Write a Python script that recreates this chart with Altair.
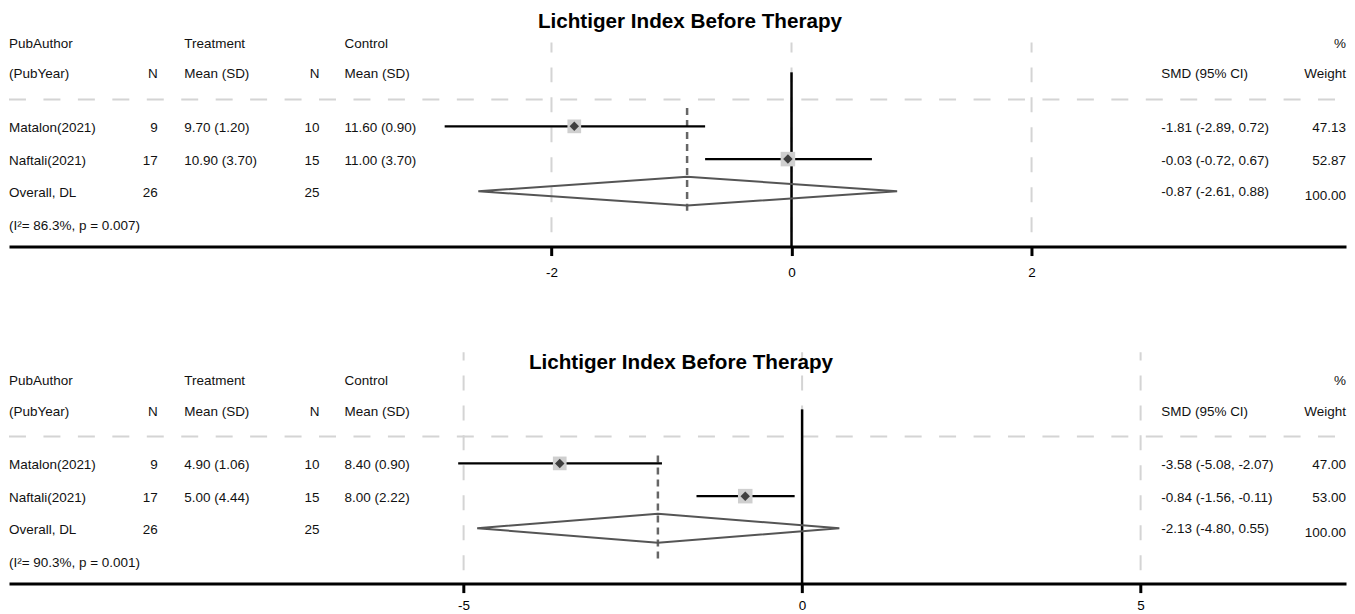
import altair as alt
import pandas as pd

# ---------------- data ----------------
TITLE = "Lichtiger Index Before Therapy"
studies = ["Matalon(2021)", "Naftali(2021)"]
overall_name = "Overall, DL"
hdr_top = {"name": "PubAuthor", "msd_t": "Treatment", "msd_c": "Control", "weight": "%"}
hdr_bot = {"name": "(PubYear)", "n_t": "N", "msd_t": "Mean (SD)", "n_c": "N",
           "msd_c": "Mean (SD)", "ci": "SMD (95% CI)", "weight": "Weight"}

# panel 1
p1_n_t = [9, 17]
p1_n_c = [10, 15]
p1_msd_t = ["9.70 (1.20)", "10.90 (3.70)"]
p1_msd_c = ["11.60 (0.90)", "11.00 (3.70)"]
p1_smd = [-1.81, -0.03]
p1_lo = [-2.89, -0.72]
p1_hi = [-0.72, 0.67]
p1_ci_text = ["-1.81 (-2.89, 0.72)", "-0.03 (-0.72, 0.67)"]
p1_weight = [47.13, 52.87]
p1_overall = [-0.87, -2.61, 0.88]
p1_overall_text = "-0.87 (-2.61, 0.88)"
p1_tot_n = [26, 25]
p1_het = "(I\u00b2= 86.3%, p = 0.007)"
p1_ticks = [-2, 0, 2]

# panel 2
p2_n_t = [9, 17]
p2_n_c = [10, 15]
p2_msd_t = ["4.90 (1.06)", "5.00 (4.44)"]
p2_msd_c = ["8.40 (0.90)", "8.00 (2.22)"]
p2_smd = [-3.58, -0.84]
p2_lo = [-5.08, -1.56]
p2_hi = [-2.07, -0.11]
p2_ci_text = ["-3.58 (-5.08, -2.07)", "-0.84 (-1.56, -0.11)"]
p2_weight = [47.00, 53.00]
p2_overall = [-2.13, -4.80, 0.55]
p2_overall_text = "-2.13 (-4.80, 0.55)"
p2_tot_n = [26, 25]
p2_het = "(I\u00b2= 90.3%, p = 0.001)"
p2_ticks = [-5, 0, 5]

# ---------------- layout ----------------
W = 1339
ROW_TOP, ROW_BOT = -3.6, 3.67
H = (ROW_BOT - ROW_TOP) * 32.8
FONT = "Liberation Sans"
FS = 13.5
col_px = {"name": 0, "n_t": 149, "msd_t": 175.5, "n_c": 311, "msd_c": 336,
          "ci": 1154, "weight": 1339}
left_cols = {"name", "msd_t", "msd_c", "ci"}
ROW_H1, ROW_H2, ROW_SEP, ROW_HET = -2.55, -1.63, -0.82, 3.0
DIAMOND_HALF = 0.44

yscale = alt.Scale(domain=[ROW_TOP, ROW_BOT], reverse=True, nice=False, zero=False)
pxscale = alt.Scale(domain=[0, W], nice=False, zero=False)


def yenc(f):
    return alt.Y(f + ":Q", scale=yscale, axis=None)


def panel(n_t, n_c, msd_t, msd_c, smd, lo, hi, ci_text, weight, overall,
          overall_text, tot_n, het, ticks, xdomain, title_px, title_row,
          grid_rows, odash_rows, tick_size, label_pad):
    xscale = alt.Scale(domain=xdomain, nice=False, zero=False)
    xaxis = alt.Axis(values=ticks, domainColor="black", domainWidth=3,
                     tickColor="black", tickWidth=3, tickSize=tick_size,
                     labelFontSize=FS, labelFont=FONT, labelColor="black",
                     labelPadding=label_pad, grid=False, title=None,
                     labelExpr="'' + datum.value")

    def xenc(f):
        return alt.X(f + ":Q", scale=xscale, axis=xaxis, title=None)

    rows = list(range(len(smd)))
    grid_df = pd.DataFrame({"x": ticks, "y": [grid_rows[1]] * len(ticks),
                            "y2": [grid_rows[0]] * len(ticks)})
    grid = alt.Chart(grid_df).mark_rule(color="#d4d4d4", strokeWidth=2,
                                        strokeDash=[15, 15]).encode(
        x=xenc("x"), y=yenc("y"), y2="y2")
    sep = alt.Chart(pd.DataFrame({"x": [xdomain[0]], "x2": [xdomain[1]], "y": [ROW_SEP]})).mark_rule(
        color="#d4d4d4", strokeWidth=2, strokeDash=[17, 17.5]).encode(
        x=xenc("x"), x2="x2", y=yenc("y"))
    zero = alt.Chart(pd.DataFrame({"x": [0], "y": [-1.65], "y2": [ROW_BOT]})).mark_rule(
        color="black", strokeWidth=2.5).encode(x=xenc("x"), y=yenc("y"), y2="y2")
    odash = alt.Chart(pd.DataFrame({"x": [overall[0]], "y": [odash_rows[0]],
                                    "y2": [odash_rows[1]]})).mark_rule(
        color="#666666", strokeWidth=2.5, strokeDash=[7, 5]).encode(
        x=xenc("x"), y=yenc("y"), y2="y2")
    sdf = pd.DataFrame({"row": rows, "smd": smd, "lo": lo, "hi": hi,
                        "w": weight, "sz": [w * 4.0 for w in weight]})
    ci = alt.Chart(sdf).mark_rule(color="black", strokeWidth=2.3).encode(
        x=xenc("lo"), x2="hi", y=yenc("row"))
    sq = alt.Chart(sdf).mark_square(color="#cfcfcf", opacity=1).encode(
        x=xenc("smd"), y=yenc("row"),
        size=alt.Size("sz:Q", scale=None, legend=None))
    dm = alt.Chart(sdf).mark_point(shape="diamond", filled=True, color="#3f3f3f",
                                   opacity=1, size=90).encode(
        x=xenc("smd"), y=yenc("row"))
    r = len(smd) - 0.02
    est, olo, ohi = overall
    ddf = pd.DataFrame({"x": [olo, est, ohi, est, olo],
                        "y": [r, r - DIAMOND_HALF, r, r + DIAMOND_HALF, r],
                        "o": [0, 1, 2, 3, 4]})
    dia = alt.Chart(ddf).mark_line(color="#555555", strokeWidth=2).encode(
        x=xenc("x"), y=yenc("y"), order="o:Q")
    data_layer = alt.layer(grid, sep, zero, odash, ci, sq, dm, dia)

    # text table
    recs = []

    def add(col, row, text):
        recs.append({"px": col_px[col], "row": row, "t": str(text),
                     "left": col in left_cols})

    for k, v in hdr_top.items():
        add(k, ROW_H1, v)
    for k, v in hdr_bot.items():
        add(k, ROW_H2, v)
    for i in rows:
        add("name", i, studies[i])
        add("n_t", i, n_t[i])
        add("msd_t", i, msd_t[i])
        add("n_c", i, n_c[i])
        add("msd_c", i, msd_c[i])
        add("ci", i, ci_text[i])
        add("weight", i, f"{weight[i]:.2f}")
    k = len(smd)
    add("name", k, overall_name)
    add("n_t", k, tot_n[0])
    add("n_c", k, tot_n[1])
    add("ci", k - 0.03, overall_text)
    add("weight", k + 0.08, f"{sum(weight):.2f}")
    add("name", ROW_HET, het)
    tdf = pd.DataFrame(recs)
    tl = alt.Chart(tdf[tdf["left"]]).mark_text(
        align="left", baseline="middle", font=FONT, fontSize=FS, color="#111111", dy=1.5
    ).encode(x=alt.X("px:Q", scale=pxscale, axis=None), y=yenc("row"), text="t:N")
    tr = alt.Chart(tdf[~tdf["left"]]).mark_text(
        align="right", baseline="middle", font=FONT, fontSize=FS, color="#111111", dy=1.5
    ).encode(x=alt.X("px:Q", scale=pxscale, axis=None), y=yenc("row"), text="t:N")
    tt = alt.Chart(pd.DataFrame({"px": [title_px], "row": [title_row], "t": [TITLE]})).mark_text(
        align="center", baseline="alphabetic", font=FONT, fontSize=20.7, fontWeight="bold",
        color="black"
    ).encode(x=alt.X("px:Q", scale=pxscale, axis=None), y=yenc("row"), text="t:N")
    text_layer = alt.layer(tl, tr, tt)

    return alt.layer(data_layer, text_layer).resolve_scale(x="independent").properties(
        width=W, height=H)


c1 = panel(p1_n_t, p1_n_c, p1_msd_t, p1_msd_c, p1_smd, p1_lo, p1_hi, p1_ci_text,
           p1_weight, p1_overall, p1_overall_text, p1_tot_n, p1_het, p1_ticks,
           [-6.520, 4.620], 682, -2.99, (-2.56, 3.23), (-0.56, 2.68), 9, 10)
c2 = panel(p2_n_t, p2_n_c, p2_msd_t, p2_msd_c, p2_smd, p2_lo, p2_hi, p2_ci_text,
           p2_weight, p2_overall, p2_overall_text, p2_tot_n, p2_het, p2_ticks,
           [-11.715, 8.034], 673, -2.87, (-3.39, 3.26), (-0.24, 2.99), 9, 6)

chart = alt.vconcat(c1, c2, spacing=337 - H, bounds="flush").properties(
    padding={"left": 0, "top": 0, "right": 0, "bottom": 0}
).configure_view(stroke=None)

chart.save("out.html", embed_options={"renderer": "svg", "actions": False})
